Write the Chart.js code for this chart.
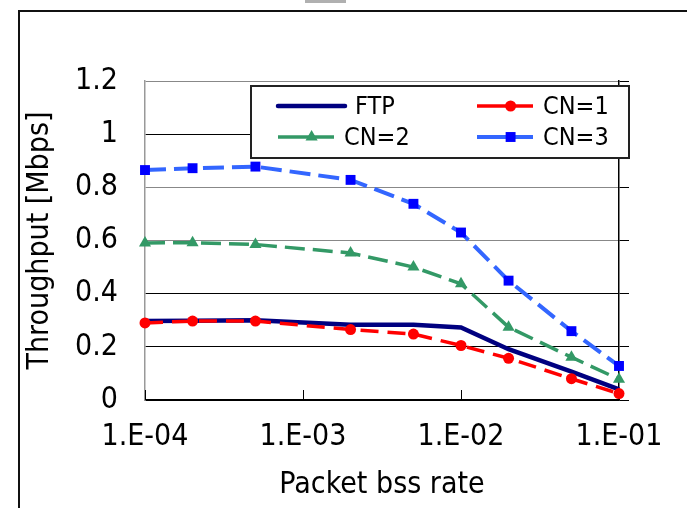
<!DOCTYPE html>
<html>
<head>
<meta charset="utf-8">
<script src="https://cdn.jsdelivr.net/npm/chart.js@4.4.0/dist/chart.umd.min.js"></script>
<style>
  html, body { margin: 0; padding: 0; background: #fff; overflow: hidden; }
  #wrap { position: relative; width: 687px; height: 508px; overflow: hidden; }
  canvas { position: absolute; left: 0; top: 0; }
</style>
</head>
<body>
<div id="wrap">
  <canvas id="chart" width="687" height="508"></canvas>
</div>
<script>
// ---- data ----
const lossRates = [1e-4, 2e-4, 5e-4, 2e-3, 5e-3, 1e-2, 2e-2, 5e-2, 1e-1];
const ftpValues = [0.297, 0.298, 0.300, 0.283, 0.283, 0.273, 0.191, 0.107, 0.040];
const cn1Values = [0.290, 0.297, 0.297, 0.265, 0.248, 0.205, 0.157, 0.080, 0.024];
const cn2Values = [0.591, 0.592, 0.585, 0.553, 0.500, 0.437, 0.274, 0.161, 0.078];
const cn3Values = [0.865, 0.872, 0.878, 0.828, 0.738, 0.630, 0.449, 0.259, 0.128];
const seriesNames = ['FTP', 'CN=1', 'CN=2', 'CN=3'];
const xTickValues = [1e-4, 1e-3, 1e-2, 1e-1];
const xTickLabels = ['1.E-04', '1.E-03', '1.E-02', '1.E-01'];

const FONT = "'Liberation Sans Narrow', 'DejaVu Sans Condensed', 'Liberation Sans', sans-serif";

function pairs(values) {
  return lossRates.map((x, i) => ({ x: x, y: values[i] }));
}

// outer frame of the figure (left and top edges only)
const frame = {
  id: 'frame',
  beforeDraw(chart) {
    const ctx = chart.ctx;
    ctx.save();
    ctx.fillStyle = '#b0b0b0';
    ctx.fillRect(305, 0, 41, 3);
    ctx.strokeStyle = '#111';
    ctx.lineWidth = 2;
    ctx.beginPath();
    ctx.moveTo(19, chart.height);
    ctx.lineTo(19, 11);
    ctx.lineTo(chart.width, 11);
    ctx.stroke();
    ctx.restore();
  }
};

// small inward tick marks on the x axis
const innerTicks = {
  id: 'innerTicks',
  beforeDatasetsDraw(chart) {
    const ctx = chart.ctx;
    const xs = chart.scales.x;
    const bottom = chart.chartArea.bottom;
    ctx.save();
    ctx.strokeStyle = '#000';
    ctx.lineWidth = 1;
    xTickValues.forEach(v => {
      const px = Math.round(xs.getPixelForValue(v)) + 0.5;
      ctx.beginPath();
      ctx.moveTo(px, bottom);
      ctx.lineTo(px, bottom - 10);
      ctx.stroke();
    });
    ctx.restore();
  }
};

// boxed legend inside the plot
const legendBox = {
  id: 'legendBox',
  afterDraw(chart) {
    const ctx = chart.ctx;
    const box = { x: 251, y: 86, w: 378, h: 72 };
    const slots = [[278, 106, 67], [477, 106, 56], [278, 137, 56], [477, 137, 56]];
    ctx.save();
    ctx.fillStyle = '#fff';
    ctx.fillRect(box.x, box.y, box.w, box.h);
    ctx.strokeStyle = '#222';
    ctx.lineWidth = 2;
    ctx.strokeRect(box.x, box.y, box.w, box.h);

    chart.data.datasets.forEach((ds, i) => {
      const [x, y, len] = slots[i];
      ctx.setLineDash([]);
      ctx.strokeStyle = ds.borderColor;
      ctx.lineWidth = ds.borderWidth;
      ctx.lineCap = i === 0 ? 'round' : 'butt';
      ctx.beginPath();
      ctx.moveTo(x, y);
      ctx.lineTo(x + len, y);
      ctx.stroke();

      const cx = x + len * 0.6;
      const r = ds.pointRadius;
      ctx.fillStyle = ds.pointBackgroundColor;
      if (ds.pointStyle === 'circle' && r > 0) {
        ctx.beginPath();
        ctx.arc(cx, y, r, 0, Math.PI * 2);
        ctx.fill();
      } else if (ds.pointStyle === 'triangle') {
        ctx.beginPath();
        ctx.moveTo(cx, y - r);
        ctx.lineTo(cx + r * 0.87, y + r * 0.5);
        ctx.lineTo(cx - r * 0.87, y + r * 0.5);
        ctx.closePath();
        ctx.fill();
      } else if (ds.pointStyle === 'rect') {
        const s = r * Math.SQRT1_2;
        ctx.fillRect(cx - s, y - s, 2 * s, 2 * s);
      }

      ctx.fillStyle = '#000';
      ctx.font = '25px ' + FONT;
      ctx.textBaseline = 'middle';
      ctx.textAlign = 'left';
      ctx.fillText(ds.label, x + len + 10, y + 1);
    });
    ctx.restore();
  }
};

const tickFont = { family: FONT, size: 30 };

new Chart(document.getElementById('chart'), {
  type: 'line',
  data: {
    datasets: [
      {
        label: seriesNames[0],
        data: pairs(ftpValues),
        borderColor: '#000080',
        backgroundColor: '#000080',
        borderWidth: 4.5,
        pointRadius: 0,
        pointStyle: 'line',
        pointBackgroundColor: '#000080',
        tension: 0,
        clip: false,
        order: 4
      },
      {
        label: seriesNames[1],
        data: pairs(cn1Values),
        borderColor: '#ff0000',
        borderWidth: 3.5,
        borderDash: [18, 9],
        pointStyle: 'circle',
        pointRadius: 5.5,
        pointBackgroundColor: '#ff0000',
        pointBorderWidth: 0,
        tension: 0,
        clip: false,
        order: 3
      },
      {
        label: seriesNames[2],
        data: pairs(cn2Values),
        borderColor: '#339966',
        borderWidth: 3.5,
        borderDash: [20, 8],
        pointStyle: 'triangle',
        pointRadius: 7,
        pointBackgroundColor: '#339966',
        pointBorderWidth: 0,
        tension: 0,
        clip: false,
        order: 2
      },
      {
        label: seriesNames[3],
        data: pairs(cn3Values),
        borderColor: '#3366ff',
        borderWidth: 4,
        borderDash: [21, 8],
        pointStyle: 'rect',
        pointRadius: 7,
        pointBackgroundColor: '#0000ff',
        pointBorderWidth: 0,
        tension: 0,
        clip: false,
        order: 1
      }
    ]
  },
  options: {
    responsive: false,
    animation: false,
    layout: { padding: { top: 81, left: 0, right: 0, bottom: 0 } },
    plugins: {
      legend: { display: false },
      tooltip: { enabled: false }
    },
    scales: {
      x: {
        type: 'logarithmic',
        min: 1e-4,
        max: 1e-1,
        afterBuildTicks: (s) => { s.ticks = xTickValues.map(v => ({ value: v })); },
        afterFit: (s) => { s.height = 108; },
        ticks: {
          color: '#000',
          font: tickFont,
          padding: 19,
          maxRotation: 0,
          autoSkip: false,
          callback: (value) => {
            const i = xTickValues.indexOf(value);
            return i >= 0 ? xTickLabels[i] : '';
          }
        },
        grid: { display: false, drawTicks: false },
        border: { display: true, color: '#000', width: 1.5 },
        title: {
          display: true,
          text: 'Packet bss rate',
          color: '#000',
          font: tickFont,
          padding: { top: 0, bottom: 5 }
        }
      },
      y: {
        position: 'left',
        min: 0,
        max: 1.2,
        afterFit: (s) => { s.width = 145; },
        ticks: {
          stepSize: 0.2,
          color: '#000',
          font: tickFont,
          padding: 27,
          callback: (v) => String(Math.round(v * 10) / 10)
        },
        grid: {
          drawTicks: false,
          lineWidth: 1,
          color: (c) => {
            const v = c.tick ? Math.round(c.tick.value * 10) / 10 : 0;
            return (v === 0.6 || v === 0.8 || v === 1.2) ? '#888' : '#000';
          }
        },
        border: { color: '#999', width: 1.5 },
        title: {
          display: true,
          text: 'Throughput [Mbps]',
          color: '#000',
          font: tickFont,
          padding: { top: 22, bottom: 0 }
        }
      },
      y2: {
        position: 'right',
        min: 0,
        max: 1.2,
        afterFit: (s) => { s.width = 68; },
        ticks: { stepSize: 0.2, display: false },
        grid: { drawOnChartArea: false, drawTicks: true, tickLength: 10, color: '#000', lineWidth: 1 },
        border: { color: '#000', width: 1.5 }
      }
    }
  },
  plugins: [frame, innerTicks, legendBox]
});
</script>
</body>
</html>
